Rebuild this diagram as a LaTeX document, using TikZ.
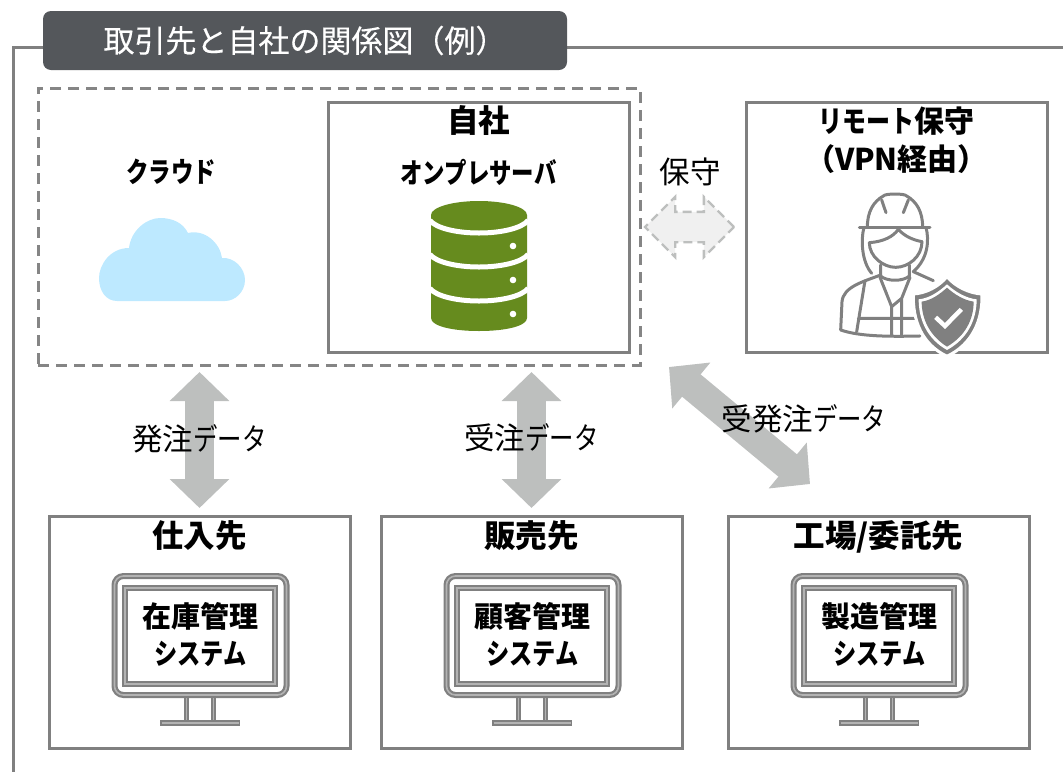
\documentclass[tikz,border=0pt]{standalone}
\usepackage{fontspec}
\setmainfont{Noto Sans CJK JP}
\newfontfamily\kanafont{Noto Sans CJK JP}[FakeStretch=0.8]
\newfontfamily\tagfont{Noto Sans CJK JP}[FakeBold=0.25]
\newcommand{\kn}[1]{{\kanafont #1}}
\usetikzlibrary{arrows.meta,positioning,shapes.arrows}
\definecolor{framegray}{HTML}{808080}
\definecolor{dashgray}{HTML}{858585}
\definecolor{linkgray}{HTML}{BDBFBE}
\definecolor{tagdark}{HTML}{54575B}
\definecolor{servergreen}{HTML}{668B1E}
\definecolor{cloudblue}{HTML}{BDE9FF}

\begin{document}
\begin{tikzpicture}[
	x=1pt, y=-1pt,
	partybox/.style={rectangle, draw=framegray, line width=3pt, outer sep=0pt, minimum width=301pt, minimum height=232pt, inner sep=0pt},
	hostbox/.style={partybox, minimum height=250pt},
	boxtitle/.style={font=\fontsize{31.5}{38}\selectfont\bfseries, inner sep=0pt, align=center},
	smalltitle/.style={font=\fontsize{28}{33}\selectfont\bfseries, inner sep=0pt},
	datalabel/.style={font=\fontsize{30.5}{36}\selectfont, inner sep=0pt},
	syslabel/.style={font=\fontsize{29}{37}\selectfont\bfseries, inner sep=0pt, align=center},
	datalink/.style={draw=linkgray, line width=29pt, {Triangle[length=29pt,width=58pt]}-{Triangle[length=29pt,width=58pt]}},
	iconline/.style={draw=framegray, line width=3pt, line cap=round, line join=round},
	node distance=31pt
	]
	\useasboundingbox (0,0) rectangle (1063,772);
	\draw[framegray, line width=3pt] (1063,47.5) -- (13,47.5) -- (13,772);
	\node[rectangle, rounded corners=8pt, fill=tagdark, minimum width=524pt, minimum height=59pt, text=white, font=\fontsize{31}{36}\selectfont\tagfont] (tag) at (305,40.5) {取引先と自社の関係図（例）};

	\node[draw=dashgray, dashed, dash pattern=on 11pt off 7pt, line width=3pt, rectangle, outer sep=0pt, minimum width=602pt, minimum height=277pt] (own) at (339,226.5) {};
	\node[hostbox] (onprem) at (478.5,227) {};
	\node[hostbox, right=117pt of onprem] (remote) {};

	\node[partybox] (supplier) at (199.5,632) {};
	\node[partybox, right=of supplier] (sales) {};
	\node[partybox, right=46pt of sales] (factory) {};

	% titles
	\node[boxtitle, below=3.5pt of onprem.north] (onpremtitle) {自社};
	\node[smalltitle] (servertitle) at (478.5,172) {\kn{オンプレサーバ}};
	\node[smalltitle] (cloudtitle) at (171,172) {\kn{クラウド}};
	\node[boxtitle, below=5pt of remote.north, font=\fontsize{30}{38}\selectfont\bfseries] (remotetitle) {\kn{リモート}保守\\（VPN経由）};
	\node[boxtitle, below=4pt of supplier.north] (suppliertitle) {仕入先};
	\node[boxtitle, below=4pt of sales.north] (salestitle) {販売先};
	\node[boxtitle, below=4pt of factory.north] (factorytitle) {工場/委託先};

	% cloud
	\fill[cloudblue] (117,301) .. controls (106,301) and (99,291) .. (99,278) .. controls (99,265) and (110,248) .. (129,248)
		.. controls (131,230) and (147,218) .. (160,218) .. controls (173,218) and (183,223) .. (188,233)
		.. controls (205,229) and (220,243) .. (222,258) .. controls (234,257) and (245,268) .. (245,280)
		.. controls (245,292) and (235,301) .. (225,301) -- cycle;

	% server
	\fill[servergreen] (431,215) -- (431,318) .. controls (431,326) and (452,331) .. (479,331) .. controls (506,331) and (527,326) .. (527,318) -- (527,215) -- cycle;
	\fill[servergreen] (479,215) ellipse [x radius=48, y radius=14];
	\foreach \dy in {0,34,68} {
		\draw[white, line width=5pt] (430,220.5+\dy) .. controls (436,228+\dy) and (456,233+\dy) .. (479,233+\dy) .. controls (502,233+\dy) and (522,228+\dy) .. (528,220.5+\dy);
		\fill[white] (513,246+\dy) circle (3.3);
	}

	% worker
	\begin{scope}[shift={(830,190)}, x=0.3333pt, y=-0.3333pt]
		\draw[iconline] (88,112) -- (300,112);
		\draw[iconline] (112,112) .. controls (112,65) and (130,35) .. (160,18) .. controls (165,10) and (225,10) .. (230,18) .. controls (260,35) and (278,65) .. (278,112);
		\draw[iconline] (155,30) -- (168,68) (235,30) -- (220,68);
		\draw[iconline] (102,112) .. controls (92,150) and (95,215) .. (125,250);
		\draw[iconline] (288,112) .. controls (298,150) and (295,205) .. (250,245) -- (310,272);
		\draw[iconline] (118,158) .. controls (160,155) and (190,140) .. (205,118) .. controls (225,140) and (250,150) .. (276,155);
		\draw[iconline] (118,158) .. controls (118,200) and (160,232) .. (197,232) .. controls (235,232) and (276,200) .. (276,155);
		\draw[iconline] (152,225) -- (152,258) .. controls (170,275) and (220,275) .. (238,258) -- (238,225);
		\draw[iconline] (152,255) .. controls (100,275) and (40,290) .. (36,335) -- (32,420) .. controls (90,440) and (180,440) .. (270,438);
		\draw[iconline] (105,272) -- (80,425) (85,385) -- (260,385);
		\draw[iconline] (150,262) -- (185,350) -- (185,435) (240,262) -- (215,325) -- (215,437) (185,350) -- (215,325);
		\fill[framegray, draw=white, line width=3pt] (351,260) .. controls (376,290) and (418,310) .. (456,312) .. controls (458,390) and (428,462) .. (351,499) .. controls (274,462) and (248,390) .. (250,312) .. controls (288,310) and (326,290) .. (351,260) -- cycle;
		\fill[white] (351,283) .. controls (375,305) and (408,325) .. (440,328) .. controls (440,390) and (412,447) .. (351,480) .. controls (292,447) and (266,390) .. (266,328) .. controls (298,325) and (327,305) .. (351,283) -- cycle;
		\fill[framegray] (351,293) .. controls (373,313) and (402,331) .. (431,335) .. controls (431,388) and (406,438) .. (351,470) .. controls (300,438) and (275,388) .. (275,335) .. controls (304,331) and (329,313) .. (351,293) -- cycle;
		\draw[white, line width=4.4pt, line cap=butt, line join=miter] (317,382) -- (345,408) -- (394,358);
	\end{scope}

	% monitors
	\foreach \boxname/\sysname/\sysline in {supplier/stock/在庫管理, sales/customer/顧客管理, factory/production/製造管理} {
		\begin{scope}[shift={(\boxname.center)}]
			\draw[framegray, line width=6pt, rounded corners=9pt] (-85,-56) rectangle (87,63);
			\draw[white!40!framegray, line width=1.6pt, rounded corners=9pt] (-85,-56) rectangle (87,63);
			\draw[framegray, line width=6pt] (-74.5,-44) rectangle (75.5,52);
			\draw[white!40!framegray, line width=2pt] (-74.5,-44) rectangle (75.5,52);
			\draw[framegray, line width=4.4pt] (-13,66) -- (-13,90) (14,66) -- (14,90);
			\draw[framegray, line width=6pt] (-39.5,91) -- (40.5,91);
			\draw[white!40!framegray, line width=1.4pt] (-13,66) -- (-13,88) (14,66) -- (14,88) (-38,91) -- (39,91);
			\node[syslabel] (\sysname) at (1,3) {\sysline\\\kn{システム}};
		\end{scope}
	}

	% links
	\draw[datalink] (own.south -| supplier.north) ++(0,7) coordinate (orderup) -- (supplier.north |- 0,508);
	\draw[datalink] (own.south -| sales.north) ++(0,7) coordinate (saleup) -- (sales.north |- 0,508);
	\coordinate (factoryup) at (669,367);
	\coordinate (factorydown) at (810,484);
	\draw[datalink] (factoryup) -- (factorydown);
	\node[double arrow, draw=linkgray, dash pattern=on 9pt off 5pt, line width=2.4pt, fill=black!6, minimum height=89pt, double arrow head extend=15pt, double arrow head indent=0pt, inner sep=14pt] (maintarrow) at (689.5,227) {};

	% labels
	\node[datalabel] (orderlabel) at (199.5,439) {発注\kn{データ}};
	\node[datalabel] (salelabel) at (531.5,438) {受注\kn{データ}};
	\node[datalabel] (factorylabel) at (804,419) {受発注\kn{データ}};
	\node[datalabel] (maintlabel) at (690,172) {保守};
\end{tikzpicture}
\end{document}
